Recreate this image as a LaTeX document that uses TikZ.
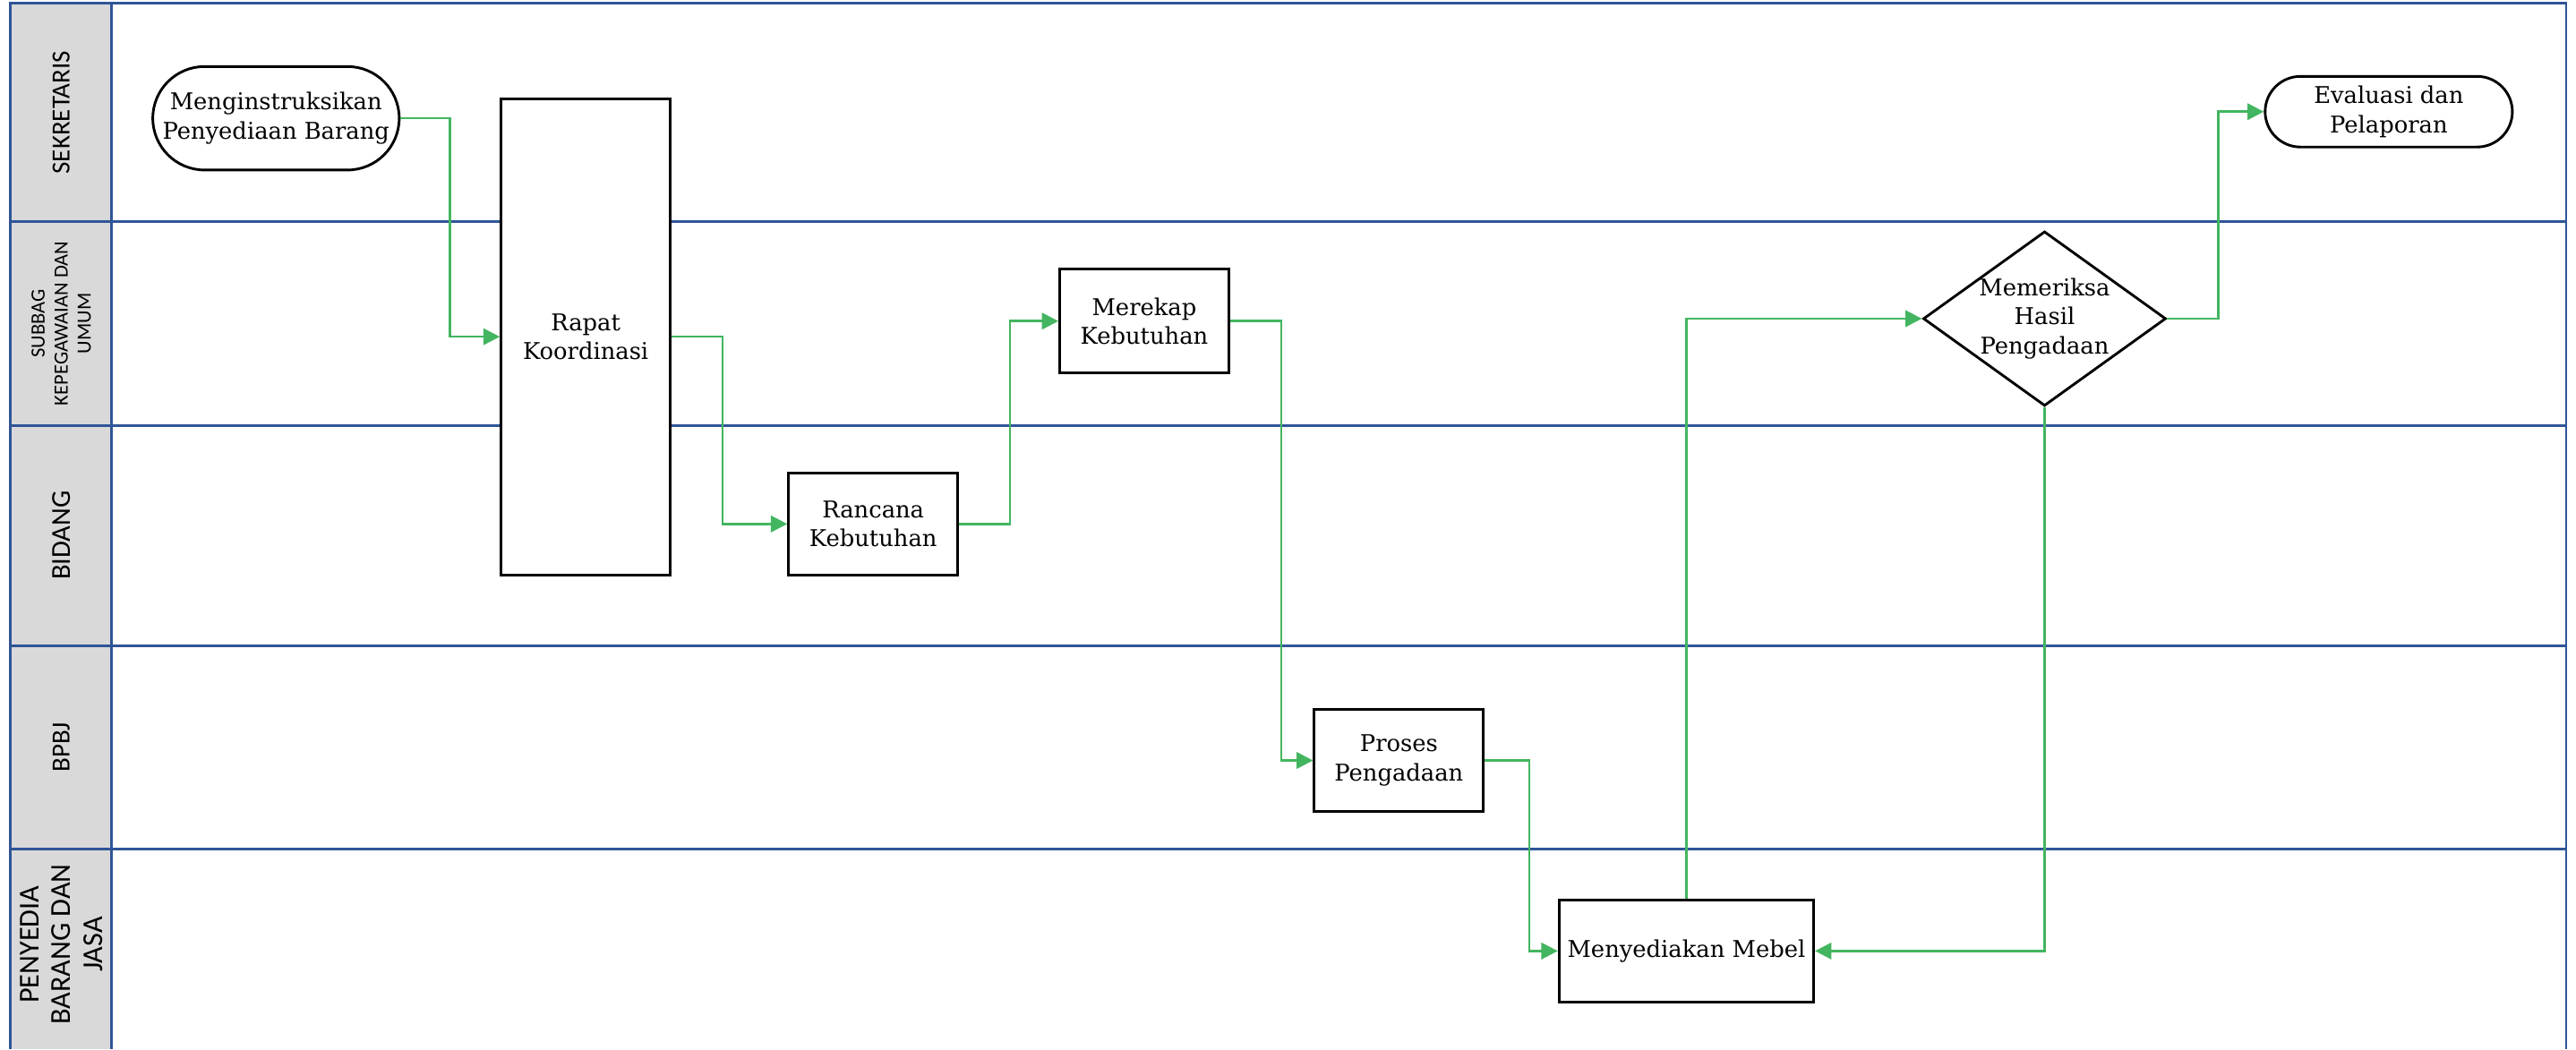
\documentclass[tikz,border=0pt]{standalone}
\usepackage{fontspec}
\setmainfont{DejaVu Serif}
\newfontfamily\lanefont{Carlito}
\usetikzlibrary{positioning, arrows.meta, shapes.geometric, shapes.misc}

\definecolor{flowgreen}{RGB}{67,181,96}
\definecolor{laneblue}{RGB}{47,85,151}
\definecolor{hdrgray}{RGB}{217,217,217}

\begin{document}
\begin{tikzpicture}[
    procbox/.style={
        draw=black, line width=0.9pt, fill=white,
        minimum width=2.06cm, minimum height=1.24cm,
        inner sep=1pt, align=center,
        font=\fontsize{8}{10}\selectfont
    },
    termbox/.style={
        rounded rectangle, draw=black, line width=0.9pt, fill=white,
        minimum width=2.96cm, minimum height=1.26cm,
        inner sep=1pt, align=center,
        font=\fontsize{8}{10}\selectfont
    },
    decbox/.style={
        diamond, draw=black, line width=0.9pt, fill=white,
        aspect=1.39, minimum width=2.94cm, minimum height=2.12cm,
        inner sep=0pt, align=center,
        font=\fontsize{8}{10}\selectfont
    },
    lane/.style={draw=laneblue, line width=0.9pt},
    lanelbl/.style={rotate=90, align=center, font=\lanefont\fontsize{9}{11}\selectfont},
    flow/.style={draw=flowgreen, line width=0.8pt, -{Triangle[length=0.2cm, width=0.2cm]}},
]
\useasboundingbox (0,0) rectangle (31.36,-12.78);

% Frame x-coordinates
\def\fL{0.13}
\def\fH{1.36}
\def\fR{31.24}

% Lane boundaries
\def\lA{-0.04}
\def\lB{-2.70}
\def\lC{-5.18}
\def\lD{-7.86}
\def\lE{-10.34}
\def\lF{-12.78}

% ====== SWIMLANES ======
\fill[hdrgray] (\fL,\lA) rectangle (\fH,\lF);
\draw[lane] (\fL,\lF) -- (\fL,\lA) -- (\fR,\lA) -- (\fR,\lF);
\draw[lane] (\fH,\lA) -- (\fH,\lF);
\foreach \ly in {\lB,\lC,\lD,\lE}
    \draw[lane] (\fL,\ly) -- (\fR,\ly);

\node[lanelbl] (lsek) at (0.745,-1.37) {SEKRETARIS};
\node[lanelbl, font=\lanefont\fontsize{7}{8}\selectfont] (lsub) at (0.745,-3.94) {SUBBAG\\KEPEGAWAIAN DAN\\UMUM};
\node[lanelbl, font=\lanefont\fontsize{9.5}{11}\selectfont] (lbid) at (0.745,-6.52) {BIDANG};
\node[lanelbl] (lbpbj) at (0.745,-9.10) {BPBJ};
\node[lanelbl, font=\lanefont\fontsize{10}{11}\selectfont] (lpen) at (0.745,-11.50) {PENYEDIA\\BARANG DAN\\JASA};

% ====== PROCESS STEPS ======
\node[termbox] (start) at (3.36,-1.44) {Menginstruksikan\\Penyediaan Barang};
\node[procbox, minimum height=5.8cm] (rapat) at (7.13,-4.10) {Rapat\\Koordinasi};
\node[procbox] (rancana) at (10.63,-6.38) {Rancana\\Kebutuhan};
\node[procbox, minimum height=1.26cm] (merekap) at (13.93,-3.91) {Merekap\\Kebutuhan};
\node[procbox] (proses) at (17.03,-9.26) {Proses\\Pengadaan};
\node[procbox, minimum width=3.10cm] (mebel) at (20.53,-11.58) {Menyediakan Mebel};
\node[decbox] (cek) at (24.89,-3.88) {Memeriksa\\Hasil\\Pengadaan};
\node[termbox, minimum width=3.08cm, minimum height=0.86cm] (eval) at (29.08,-1.36) {Evaluasi dan\\Pelaporan};

% ====== FLOW CONNECTORS ======
\draw[flow] (start.east) -- ++(0.60,0) |- (rapat.west);
\draw[flow] (rapat.east) -- ++(0.62,0) |- (rancana.west);
\draw[flow] (rancana.east) -- ++(0.62,0) |- (merekap.west);
\draw[flow] (merekap.east) -- ++(0.62,0) |- (proses.west);
\draw[flow] (proses.east) -- ++(0.54,0) |- (mebel.west);
\draw[flow] (mebel.north) |- (cek.west);
\draw[flow] (cek.east) -- ++(0.62,0) |- (eval.west);
\draw[flow] (cek.south) |- (mebel.east);

\end{tikzpicture}
\end{document}
